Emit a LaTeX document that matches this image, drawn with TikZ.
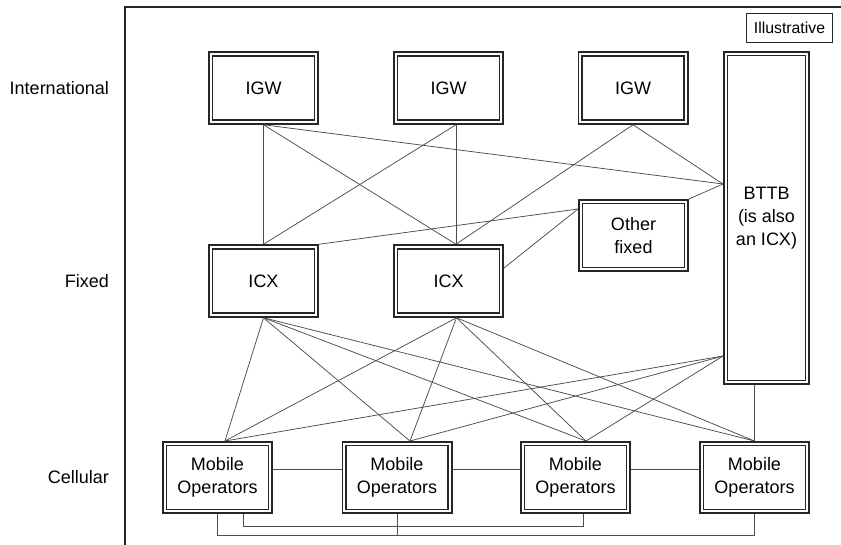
\documentclass[tikz,border=0pt]{standalone}
\usepackage{fontspec}
\setmainfont{Liberation Sans}
\usetikzlibrary{calc}
\begin{document}
\begin{tikzpicture}[x=1pt,y=-1pt,
  dbox/.style={draw=black!85, line width=1.6pt, double=white, double distance=2.2pt,
    inner sep=0pt, outer sep=2.7pt, minimum width=105.6pt, minimum height=68.1pt,
    align=center, font=\fontsize{18}{23}\selectfont},
  conn/.style={draw=black!70, line width=0.75pt},
  lbl/.style={anchor=east, inner sep=0pt, font=\fontsize{18}{23}\selectfont}]
\useasboundingbox (0,0) rectangle (841,544);
\clip (0,0) rectangle (841,544);
\draw[line width=2pt, black!85] (125,7) rectangle (900,600);

% labels
\node[lbl] (lint) at (109,88) {International};
\node[lbl] (lfix) at (109,281) {Fixed};
\node[lbl] (lcel) at (109,477.5) {Cellular};

\node[draw=black!85, line width=1.3pt, minimum width=85.5pt, minimum height=28.8pt,
  inner sep=0pt, font=\fontsize{15.8}{18}\selectfont] (ill) at (789.5,28) {Illustrative};

% boxes
\node[dbox] (igw1) at (263.5,88) {IGW};
\node[dbox] (igw2) at (448.5,88) {IGW};
\node[dbox] (igw3) at (633,88) {IGW};
\node[dbox, minimum width=81.6pt, minimum height=328.6pt] (bttb) at (766.5,218) {BTTB\\(is also\\an ICX)};
\node[dbox] (icx1) at (263.5,281) {ICX};
\node[dbox] (icx2) at (448.5,281) {ICX};
\node[dbox, minimum height=67.6pt] (ofx) at (633.5,235.5) {Other\\fixed};
\node[dbox, minimum height=67.6pt] (mo1) at (217.5,477.5) {Mobile\\Operators};
\node[dbox, minimum height=67.6pt] (mo2) at (397,477.5) {Mobile\\Operators};
\node[dbox, minimum height=67.6pt] (mo3) at (575.5,477.5) {Mobile\\Operators};
\node[dbox, minimum height=67.6pt] (mo4) at (754.5,477.5) {Mobile\\Operators};

% connection points
\coordinate (igw2s) at ($(igw2.south)+(7.5,0)$);
\coordinate (icx2n) at ($(icx2.north)+(7.5,0)$);
\coordinate (icx2s) at ($(icx2.south)+(8,0)$);
\coordinate (icx2e) at ($(icx2.east)+(0,-13)$);
\coordinate (bttbU) at ($(bttb.north west)+(0,133)$);
\coordinate (bttbL) at ($(bttb.north west)+(0,305)$);
\coordinate (ofxw) at ($(ofx.north west)+(0,10)$);
\coordinate (mo1t) at ($(mo1.north)+(7.5,0)$);
\coordinate (mo2t) at ($(mo2.north)+(13,0)$);
\coordinate (mo3t) at ($(mo3.north)+(10.5,0)$);
\coordinate (mo4t) at (mo4.north);

% international -> fixed
\draw[conn] (igw1.south) -- (icx1.north);
\draw[conn] (igw1.south) -- (icx2n);
\draw[conn] (igw1.south) -- (bttbU);
\draw[conn] (igw2s) -- (icx1.north);
\draw[conn] (igw2s) -- (icx2n);
\draw[conn] (igw3.south) -- (icx2n);
\draw[conn] (igw3.south) -- (bttbU);
\draw[conn] (icx1.north east) -- (ofxw);
\draw[conn] (icx2e) -- (ofxw);
\draw[conn] (ofx.north east) -- (bttbU);

% fixed -> cellular
\foreach \m in {mo1t,mo2t,mo3t,mo4t}{
  \draw[conn] (icx1.south) -- (\m);
  \draw[conn] (icx2s) -- (\m);
}
\foreach \m in {mo1t,mo2t,mo3t}{
  \draw[conn] (bttbL) -- (\m);
}
\draw[conn] (mo4t) -- (mo4t |- bttb.south);

% cellular links
\draw[conn] ($(mo1.east)+(0,-8.5)$) -- ($(mo2.west)+(0,-8.5)$);
\draw[conn] ($(mo2.east)+(0,-8.5)$) -- ($(mo3.west)+(0,-8.5)$);
\draw[conn] ($(mo3.east)+(0,-8.5)$) -- ($(mo4.west)+(0,-8.5)$);
\coordinate (b1) at ($(mo1.south)+(0,21)$);
\draw[conn] (mo1.south) -- (b1) -| (mo4.south);
\draw[conn] (mo2.south) -- (mo2.south |- b1);
\coordinate (b2) at ($(mo1.south)+(25.5,12)$);
\draw[conn] ($(mo1.south)+(25.5,0)$) -- (b2) -| ($(mo3.south)+(7.5,0)$);
\end{tikzpicture}
\end{document}
